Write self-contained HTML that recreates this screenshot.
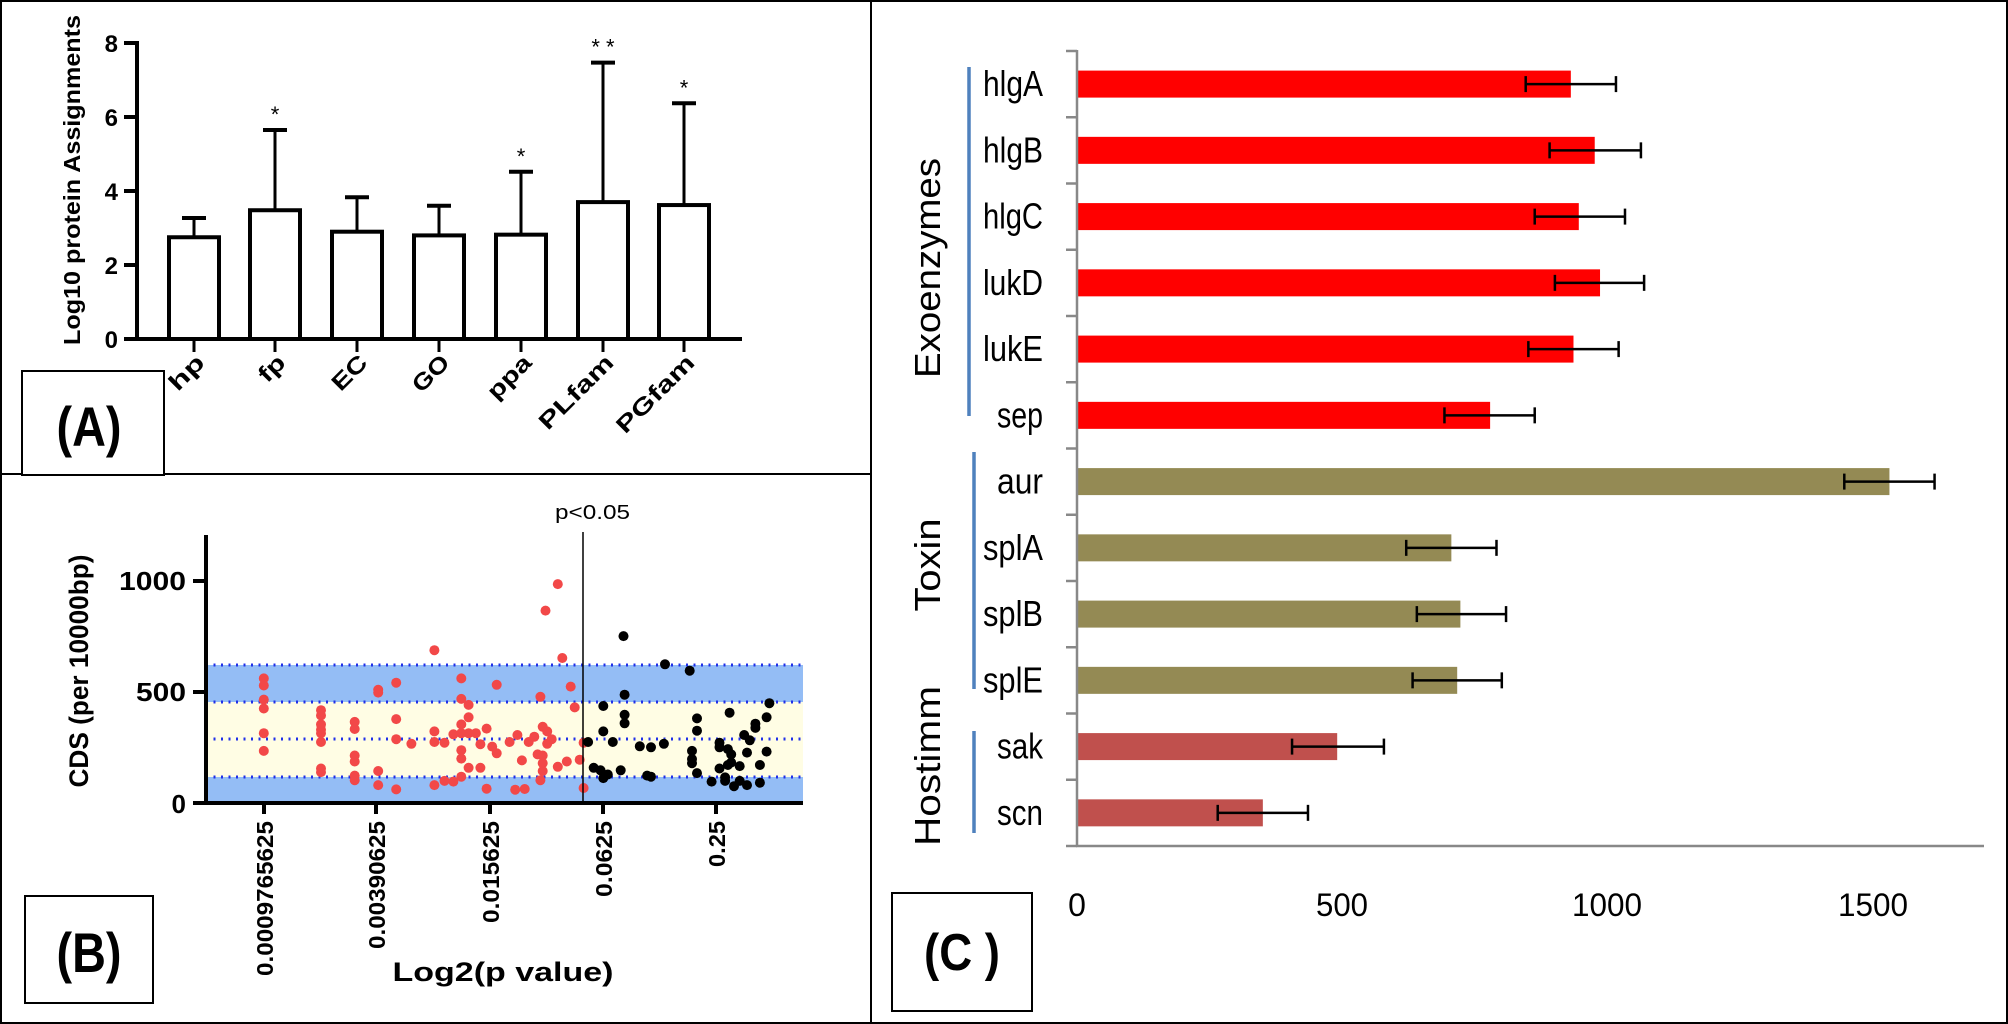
<!DOCTYPE html>
<html><head><meta charset="utf-8"><style>
html,body{margin:0;padding:0;background:#fff}
svg{display:block}
text{font-family:"Liberation Sans",sans-serif}
</style></head><body>
<svg id="s" width="2008" height="1024" viewBox="0 0 2008 1024" xmlns="http://www.w3.org/2000/svg">
<rect x="1" y="1" width="2006" height="1022" fill="#fff" stroke="#000" stroke-width="2"/>
<line x1="871" y1="0" x2="871" y2="1024" stroke="#000" stroke-width="2"/>
<line x1="0" y1="474" x2="871" y2="474" stroke="#000" stroke-width="2"/>

<!-- Panel A -->
<g stroke="#000" stroke-width="4" fill="none">
<line x1="137" y1="41" x2="137" y2="341"/>
<line x1="135" y1="339" x2="742" y2="339"/>
<line x1="124" y1="43" x2="137" y2="43"/>
<line x1="124" y1="117" x2="137" y2="117"/>
<line x1="124" y1="191" x2="137" y2="191"/>
<line x1="124" y1="265" x2="137" y2="265"/>
<line x1="124" y1="339" x2="137" y2="339"/>
</g>
<g font-weight="bold" font-size="24" text-anchor="end">
<text x="118" y="52">8</text><text x="118" y="126">6</text><text x="118" y="200">4</text><text x="118" y="274">2</text><text x="118" y="348">0</text>
</g>
<text transform="translate(80,180) rotate(-90)" text-anchor="middle" font-weight="bold" font-size="23" textLength="330" lengthAdjust="spacingAndGlyphs">Log10 protein Assignments</text>

<!-- Panel B static -->
<rect x="206" y="665" width="597" height="138" fill="#94bdf5"/>
<rect x="206" y="702" width="597" height="75" fill="#fffde4"/>
<g stroke="#2030e8" stroke-width="3" stroke-dasharray="2 5.5">
<line x1="206" y1="665" x2="803" y2="665"/>
<line x1="206" y1="702" x2="803" y2="702"/>
<line x1="206" y1="739" x2="803" y2="739"/>
<line x1="206" y1="777" x2="803" y2="777"/>
</g>
<g id="pts"></g>
<line x1="583" y1="532" x2="583" y2="803" stroke="#000" stroke-width="1.5"/>
<text x="555" y="519" font-size="20" textLength="75" lengthAdjust="spacingAndGlyphs">p&lt;0.05</text>
<g stroke="#000" stroke-width="4">
<line x1="206" y1="535" x2="206" y2="805"/>
<line x1="193" y1="803" x2="803" y2="803"/>
<line x1="193" y1="581" x2="206" y2="581"/>
<line x1="193" y1="692" x2="206" y2="692"/>
<line x1="264" y1="803" x2="264" y2="814"/>
<line x1="376" y1="803" x2="376" y2="814"/>
<line x1="490" y1="803" x2="490" y2="814"/>
<line x1="603" y1="803" x2="603" y2="814"/>
<line x1="716" y1="803" x2="716" y2="814"/>
</g>
<g font-weight="bold" font-size="26" text-anchor="end">
<text x="186" y="590" textLength="67" lengthAdjust="spacingAndGlyphs">1000</text><text x="186" y="701" textLength="50" lengthAdjust="spacingAndGlyphs">500</text><text x="186" y="813">0</text>
</g>
<g font-weight="bold" font-size="23" text-anchor="end">
<text transform="translate(273,821) rotate(-90)" textLength="155" lengthAdjust="spacingAndGlyphs">0.0009765625</text>
<text transform="translate(385,821) rotate(-90)" textLength="128" lengthAdjust="spacingAndGlyphs">0.00390625</text>
<text transform="translate(499,821) rotate(-90)" textLength="102" lengthAdjust="spacingAndGlyphs">0.015625</text>
<text transform="translate(612,821) rotate(-90)" textLength="76" lengthAdjust="spacingAndGlyphs">0.0625</text>
<text transform="translate(725,821) rotate(-90)" textLength="46" lengthAdjust="spacingAndGlyphs">0.25</text>
</g>
<text x="503" y="981" text-anchor="middle" font-weight="bold" font-size="27" textLength="221" lengthAdjust="spacingAndGlyphs">Log2(p value)</text>
<text transform="translate(88,671) rotate(-90)" text-anchor="middle" font-weight="bold" font-size="27" textLength="233" lengthAdjust="spacingAndGlyphs">CDS (per 10000bp)</text>
<rect x="25" y="896" width="128" height="107" fill="#fff" stroke="#000" stroke-width="2"/>
<text x="89" y="972" text-anchor="middle" font-weight="bold" font-size="56" textLength="65" lengthAdjust="spacingAndGlyphs">(B)</text>

<!-- A label box -->
<rect x="22" y="371" width="142" height="104" fill="#fff" stroke="#000" stroke-width="2"/>
<text x="89" y="446" text-anchor="middle" font-weight="bold" font-size="56" textLength="65" lengthAdjust="spacingAndGlyphs">(A)</text>

<!-- Panel C -->
<g id="pc"></g>
<g stroke="#888" stroke-width="2.5">
<line x1="1077" y1="50" x2="1077" y2="847"/>
<line x1="1076" y1="846" x2="1984" y2="846"/>
</g>
<g font-size="32" text-anchor="middle">
<text x="1077" y="916">0</text><text x="1342" y="916" textLength="52" lengthAdjust="spacingAndGlyphs">500</text><text x="1607" y="916" textLength="70" lengthAdjust="spacingAndGlyphs">1000</text><text x="1873" y="916" textLength="70" lengthAdjust="spacingAndGlyphs">1500</text>
</g>
<g stroke="#4f81bd" stroke-width="3.5">
<line x1="969" y1="67" x2="969" y2="416"/>
<line x1="974" y1="452" x2="974" y2="689"/>
<line x1="974" y1="731" x2="974" y2="833"/>
</g>
<g font-size="36" text-anchor="middle">
<text transform="translate(940,268) rotate(-90)" textLength="220" lengthAdjust="spacingAndGlyphs">Exoenzymes</text>
<text transform="translate(940,565) rotate(-90)" textLength="93" lengthAdjust="spacingAndGlyphs">Toxin</text>
<text transform="translate(940,766) rotate(-90)" textLength="160" lengthAdjust="spacingAndGlyphs">Hostimm</text>
</g>
<rect x="892" y="893" width="140" height="118" fill="#fff" stroke="#000" stroke-width="2"/>
<text x="962" y="970" text-anchor="middle" font-weight="bold" font-size="52" textLength="76" lengthAdjust="spacingAndGlyphs">(C )</text>
</svg>
<script>
var NS="http://www.w3.org/2000/svg",s=document.getElementById('s');
function el(t,a,p){var e=document.createElementNS(NS,t);for(var k in a)e.setAttribute(k,a[k]);(p||s).appendChild(e);return e;}
var A=[["hp",194,2.75,3.27,"",40],["fp",275,3.48,5.65,"*",28],["EC",357,2.9,3.83,"",40],["GO",439,2.8,3.6,"",42],["ppa",521,2.82,4.52,"*",52],["PLfam",603,3.7,7.47,"**",95],["PGfam",684,3.62,6.37,"*",100]];
function ya(v){return 339-v*37;}
A.forEach(function(d){
 var x=d[1],w=50;
 el('line',{x1:x,y1:ya(d[2]),x2:x,y2:ya(d[3]),stroke:'#000','stroke-width':3});
 el('line',{x1:x-12,y1:ya(d[3]),x2:x+12,y2:ya(d[3]),stroke:'#000','stroke-width':4});
 el('rect',{x:x-w/2,y:ya(d[2]),width:w,height:339-ya(d[2]),fill:'#fff',stroke:'#000','stroke-width':4});
 el('line',{x1:x,y1:339,x2:x,y2:352,stroke:'#000','stroke-width':3});
 var t=el('text',{transform:'translate('+(x+12)+',364) rotate(-45)','text-anchor':'end','font-weight':'bold','font-size':23,textLength:d[5],lengthAdjust:'spacingAndGlyphs'});t.textContent=d[0];
 if(d[4]){var t2=el('text',{x:x,y:ya(d[3])-8,'text-anchor':'middle','font-size':22});t2.textContent=d[4].split('').join(' ');}
});
var red={470:[590,610,650,675,745,795],572:[680,695,720,735,745,770,845,855],632:[713,733,808,825,865,878],674:[622,630,852,892],706:[602,705,762,904],733:[775],774:[510,740,770,892],792:[772,880],808:[748,882],822:[590,648,720,745,793,817,868],835:[665,700,745,843],848:[745],856:[776,843],867:[732,902],877:[783],885:[608,802],908:[770],918:[905],922:[750],930:[822],935:[903],942:[770],952:[755],958:[805],963:[642,878],967:[727,808,830,852],972:[398],975:[740,775],983:[762],994:[323,840],1002:[532],1010:[825],1017:[613],1024:[672],1033:[820],1040:[772,900]};
var blk={1048:[770],1058:[843],1070:[850],1075:[668,740,872],1083:[862],1092:[770],1106:[850],1111:[470],1113:[636,693,717],1140:[782],1153:[865],1160:[785,868],1183:[775],1185:[550],1229:[568],1233:[795,818,830],1242:[703,738,858],1268:[882],1282:[772,785,845],1292:[880,870],1297:[790,835],1300:[687],1303:[805,828],1308:[895],1318:[838,880],1326:[750],1331:[892,800],1336:[765],1346:[718,730],1354:[835,885],1366:[700,797],1371:[660]};
var g=document.getElementById('pts');
function pts(o,c){for(var k in o)o[k].forEach(function(zy){el('circle',{cx:(k*0.5612).toFixed(1),cy:(470+zy*0.3533).toFixed(1),r:5,fill:c},g);});}
pts(red,'#f24848');pts(blk,'#000');
var C=[["hlgA",930,845,1015,"#ff0000"],["hlgB",975,890,1062,"#ff0000"],["hlgC",945,862,1032,"#ff0000"],["lukD",985,900,1068,"#ff0000"],["lukE",935,850,1020,"#ff0000"],["sep",778,692,862,"#ff0000"],["aur",1530,1445,1615,"#948a54"],["splA",705,620,790,"#948a54"],["splB",722,640,808,"#948a54"],["splE",716,632,800,"#948a54"],["sak",490,405,578,"#c0504d"],["scn",350,265,435,"#c0504d"]];
var pc=document.getElementById('pc');
function xc(v){return 1077+v*0.531;}
for(var i=0;i<=12;i++){var ty=51+i*66.25;el('line',{x1:1066,y1:ty,x2:1077,y2:ty,stroke:'#888','stroke-width':2.5},pc);}
C.forEach(function(d,i){
 var cy=51+i*66.25+33.1;
 el('rect',{x:1077,y:cy-13.5,width:xc(d[1])-1077,height:27,fill:d[4]},pc);
 el('line',{x1:xc(d[2]),y1:cy,x2:xc(d[3]),y2:cy,stroke:'#000','stroke-width':2.5},pc);
 el('line',{x1:xc(d[2]),y1:cy-8,x2:xc(d[2]),y2:cy+8,stroke:'#000','stroke-width':2.5},pc);
 el('line',{x1:xc(d[3]),y1:cy-8,x2:xc(d[3]),y2:cy+8,stroke:'#000','stroke-width':2.5},pc);
 var t=el('text',{x:1043,y:cy+12,'text-anchor':'end','font-size':36,textLength:(d[0].length*14+4),lengthAdjust:'spacingAndGlyphs'},pc);t.textContent=d[0];
});
</script>
</body></html>
